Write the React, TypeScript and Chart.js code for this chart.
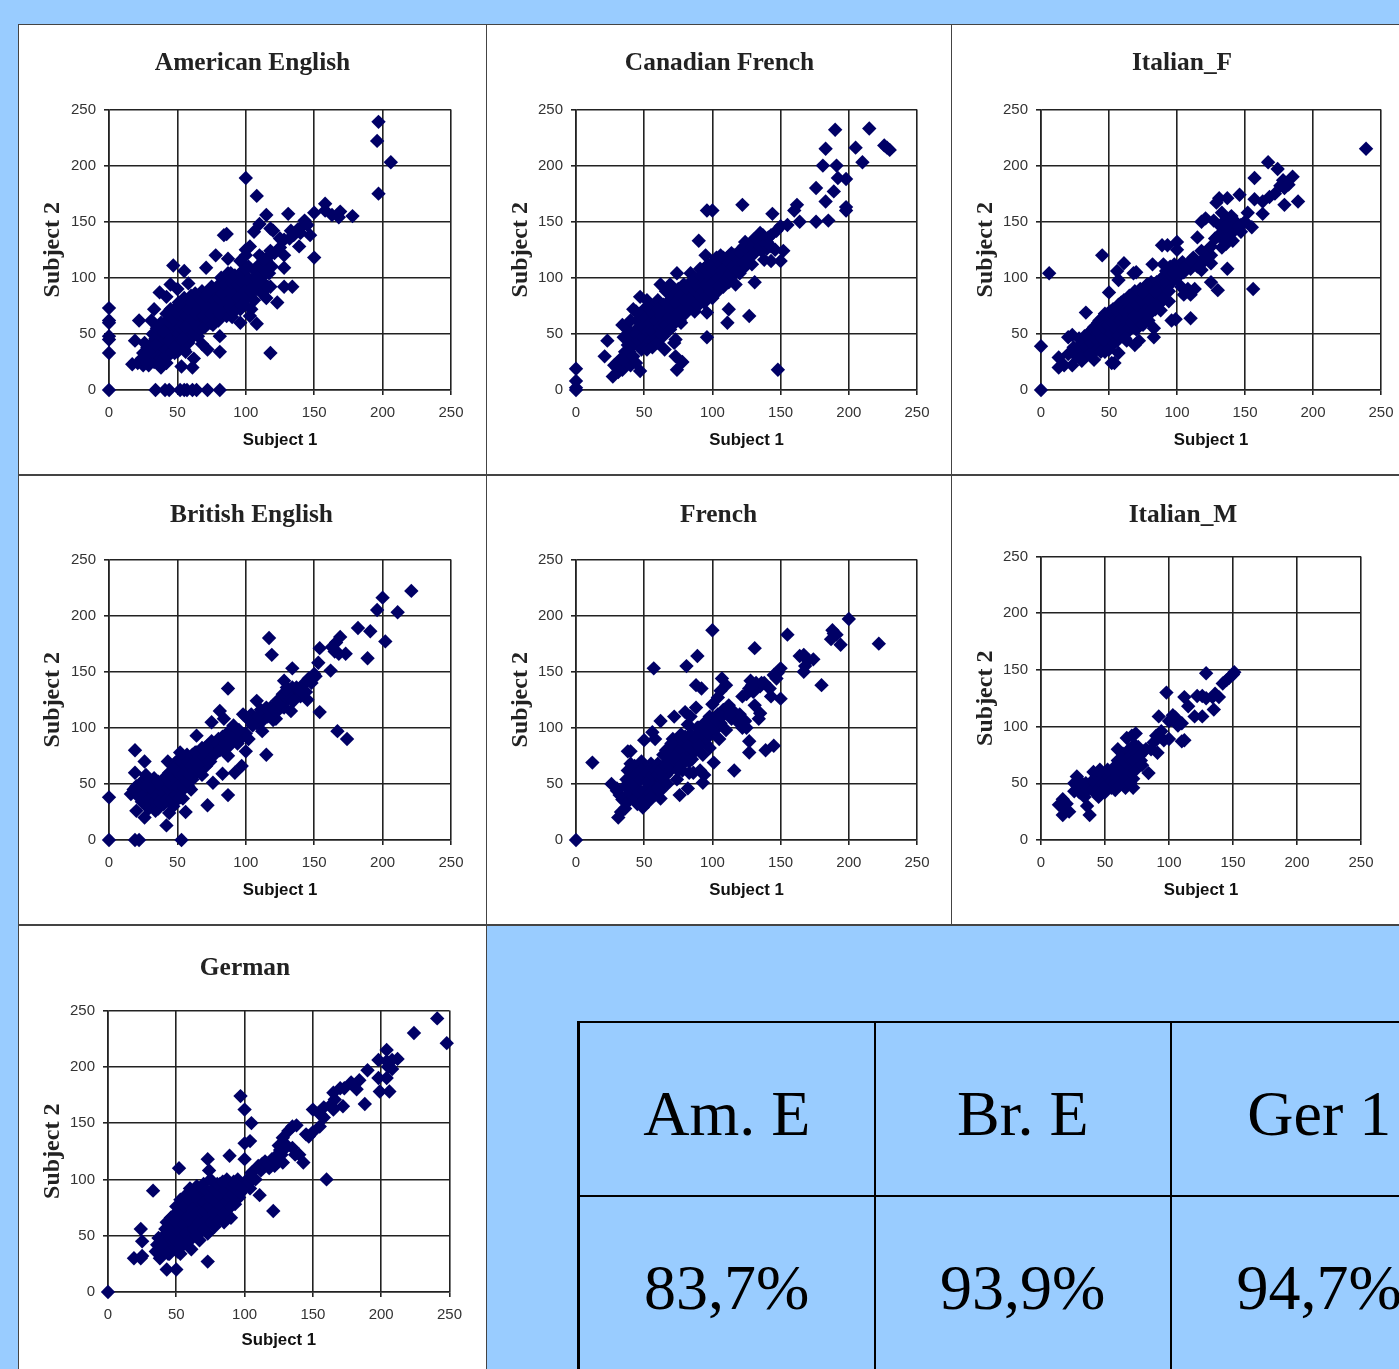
import React, { useEffect, useRef } from "react";
import { Chart, registerables } from "chart.js";

Chart.register(...registerables);

const tickValues = [0, 50, 100, 150, 200, 250];
const xAxisLabel = "Subject 1";
const yAxisLabel = "Subject 2";

const americanEnglish: number[][] = [
  [0,0],[0,33],[0,45],[0,48],[0,60],[0,62],[0,73],[34,0],[41,0],[44,0],[52,0],[55,0],[57,0],[61,0],[64,0],[72,0],[81,0],
  [197,239],[196,222],[206,203],[197,175],[100,189],[108,173],[115,156],[131,157],[150,158],[158,166],[158,160],[163,156],[168,154],[169,159],[178,155],
  [143,151],[141,146],[138,143],[145,147],[147,138],[139,128],[132,135],[125,135],[120,142],[118,144],[110,148],[106,141],[86,139],[84,138],[150,118],
  [128,109],[128,92],[134,92],[123,78],[118,33],[100,125],[103,128],[100,120],[96,115],[110,120],[115,115],[78,120],[87,117],[47,111],[55,106],[71,109],
  [58,95],[45,94],[50,90],[37,87],[42,83],[33,72],[22,62],[31,62],[19,44],[17,23],[21,24],[25,22],[29,22],[38,20],[42,24],[53,21],[61,20],[56,34],[62,28],
  [72,36],[68,41],[81,34],[81,48],[108,59],[103,66],[96,60],[90,65],[128,120],[125,127],[121,122],[118,124],[135,138],[140,140],[133,142],[128,134],
  [25,33],[28,38],[30,28],[33,25],[35,32],[36,42],[38,28],[32,50],[35,55],[39,48],[40,36],[41,60],[42,42],[43,30],[44,52],[45,38],[45,66],[46,46],[47,58],[48,33],
  [48,72],[49,52],[50,42],[50,62],[51,78],[52,48],[53,57],[54,68],[55,44],[55,52],[56,74],[57,60],[58,50],[59,66],[60,84],[60,56],[62,62],[63,72],[64,54],[65,78],
  [66,60],[67,68],[68,88],[69,58],[70,74],[71,64],[72,82],[73,70],[74,60],[75,92],[76,76],[77,66],[78,84],[79,72],[80,62],[81,90],[82,78],[83,70],[84,98],[85,84],
  [86,66],[87,92],[88,76],[89,104],[90,86],[91,70],[92,96],[93,80],[94,88],[95,100],[96,72],[97,92],[98,84],[99,76],[100,102],[101,94],[102,110],[103,86],[104,72],
  [105,98],[106,80],[107,106],[108,90],[110,112],[111,100],[112,86],[113,108],[114,94],[115,82],[116,118],[117,104],[118,92],[113,116],[119,110],
  [30,40],[34,46],[36,36],[38,52],[40,44],[41,30],[42,68],[43,48],[44,36],[44,60],[45,72],[46,52],[47,40],[47,64],[48,44],[49,56],[50,34],[50,68],[51,50],[52,38],
  [52,74],[53,44],[53,66],[54,56],[55,36],[55,82],[56,48],[57,66],[58,42],[58,72],[59,58],[60,46],[60,78],[61,64],[62,52],[63,86],[63,58],[64,68],[65,48],[66,74],
  [67,54],[68,80],[69,66],[70,56],[71,84],[72,72],[73,62],[74,90],[75,68],[76,58],[77,80],[78,74],[79,92],[80,82],[81,68],[82,100],[83,86],[84,74],[85,94],[86,78],
  [87,104],[88,88],[89,74],[90,96],[91,84],[92,102],[93,72],[94,94],[95,82],[96,104],[97,76],[98,96],[99,88],[100,108],[101,82],[102,98],[104,88],[106,92],[108,100],
  [110,96],[112,118],[115,105],[116,92],[26,42],[24,28],[28,24],[32,34],[34,40],[37,24],[29,34],[38,60],[40,52],[42,36],[44,44],[46,34],[48,38],[52,56],[54,46],[56,56]
];

const canadianFrench: number[][] = [
  [0,0],[0,2],[0,8],[0,19],[190,232],[215,233],[226,218],[228,216],[230,214],[183,215],[205,216],[210,203],[181,200],[191,200],[192,189],[198,188],[176,180],
  [189,177],[183,168],[198,160],[198,163],[176,150],[185,151],[164,150],[160,160],[162,165],[144,157],[122,165],[96,160],[100,160],[155,147],[150,146],
  [90,133],[148,18],[127,66],[111,60],[112,72],[96,47],[96,69],[131,96],[74,18],[78,25],[73,30],[65,36],[72,42],[73,45],[23,44],[21,30],[27,12],[47,17],
  [150,115],[152,124],[143,115],[138,116],[146,125],[140,132],[143,138],[135,140],[130,134],[124,132],[147,142],
  [30,20],[32,26],[34,18],[36,24],[38,28],[40,22],[44,24],[35,47],[34,58],[38,54],[40,48],[40,62],[42,72],[44,70],[46,56],[47,83],[48,42],[48,50],[49,62],[50,38],
  [50,72],[51,46],[52,56],[52,80],[53,42],[54,66],[55,50],[56,74],[56,60],[57,44],[58,68],[59,54],[60,80],[60,62],[61,48],[62,94],[62,70],[63,58],[64,76],[65,52],
  [66,88],[66,66],[67,60],[68,72],[69,94],[70,66],[70,78],[71,58],[72,84],[73,72],[74,104],[74,64],[75,80],[76,70],[77,60],[78,88],[79,76],[80,68],[81,92],[82,82],
  [83,74],[84,96],[85,86],[86,78],[87,70],[88,94],[89,84],[90,100],[90,76],[91,108],[92,88],[93,96],[94,78],[95,120],[96,100],[97,88],[98,110],[99,94],[100,82],
  [100,104],[102,116],[103,98],[104,88],[105,108],[106,120],[107,100],[108,92],[109,112],[110,104],[111,118],[112,96],[113,108],[114,122],[115,102],[116,112],[117,94],
  [118,118],[119,108],[120,124],[121,112],[122,116],[123,128],[124,110],[125,120],[126,114],[127,126],[128,122],[129,112],[132,128],[134,130],[136,124],[138,134],[140,126],
  [42,40],[44,50],[45,62],[46,44],[47,68],[48,36],[49,56],[50,46],[51,64],[52,40],[53,52],[54,72],[54,44],[55,60],[56,52],[57,68],[58,46],[59,62],[60,72],[61,56],
  [62,50],[63,66],[64,56],[65,70],[66,58],[67,78],[68,64],[69,54],[70,72],[71,84],[72,62],[73,78],[74,68],[75,90],[76,62],[77,84],[78,72],[79,94],[80,80],[81,72],
  [82,90],[83,82],[84,104],[85,92],[86,84],[87,100],[88,88],[89,76],[90,92],[91,84],[92,102],[93,88],[94,108],[95,94],[96,84],[97,112],[98,102],[99,88],[100,112],
  [101,96],[102,106],[103,118],[104,100],[105,92],[106,112],[107,106],[108,118],[109,98],[110,110],[111,100],[112,114],[113,104],[114,116],[115,110],[116,120],[117,106],
  [119,116],[120,104],[121,122],[123,114],[125,126],[127,118],[129,128],[131,122],[133,134],[135,128],[137,138],[139,130],[141,136],[143,128],[52,36],[56,38],[60,42],[64,48],
  [38,40],[36,34],[33,28],[28,22],[31,16],[35,28],[39,34],[42,30]
];

const italianF: number[][] = [
  [0,0],[0,39],[6,104],[239,215],[167,203],[174,197],[185,190],[157,189],[178,187],[182,183],[176,182],[179,180],[172,175],[168,172],[179,165],[189,168],[146,174],
  [137,171],[131,171],[129,167],[157,170],[163,168],[163,157],[152,158],[155,145],[147,141],[156,90],[137,108],[130,89],[125,96],[115,136],[118,150],[121,153],
  [127,151],[133,158],[136,152],[140,155],[132,146],[137,148],[143,150],[147,147],[130,137],[134,140],[138,135],[136,130],[133,127],[140,144],[141,133],[150,150],
  [45,120],[61,113],[56,106],[70,105],[68,104],[57,98],[50,87],[82,112],[89,129],[93,129],[100,132],[90,112],[33,69],[20,47],[23,49],
  [110,64],[96,62],[99,63],[94,79],[88,71],[83,47],[83,55],[69,40],[63,44],[72,44],[54,24],[52,24],[57,33],[13,29],[13,20],[17,22],[23,22],[39,27],[30,26],
  [108,90],[110,85],[105,85],[103,92],[113,90],[100,100],[105,105],[110,108],[115,110],[118,107],[120,115],[125,120],[122,124],[118,124],[112,118],[100,125],[125,128],
  [20,32],[24,38],[26,30],[28,46],[30,36],[32,48],[33,30],[35,42],[36,52],[37,34],[38,46],[39,56],[40,38],[41,50],[42,60],[43,40],[44,52],[45,64],[46,44],[47,34],[48,56],
  [49,68],[50,48],[51,60],[52,40],[53,72],[54,52],[55,64],[56,44],[57,76],[58,56],[59,68],[60,48],[61,80],[62,60],[63,72],[64,52],[65,84],[66,64],[67,76],[68,56],
  [69,88],[70,68],[71,80],[72,60],[73,90],[74,72],[75,82],[76,64],[77,92],[78,76],[79,86],[80,68],[81,96],[82,80],[83,90],[84,72],[85,96],[86,84],[87,94],[88,78],
  [89,100],[90,88],[91,96],[92,106],[93,92],[94,100],[95,110],[96,96],[97,104],[98,112],[104,114],[108,112],[114,115],
  [27,38],[29,28],[31,42],[33,38],[34,48],[36,32],[37,42],[38,54],[40,46],[41,36],[42,52],[43,62],[44,34],[45,46],[46,56],[47,68],[48,42],[49,58],[50,36],[51,70],
  [52,50],[53,60],[54,42],[55,54],[56,70],[57,48],[58,62],[59,78],[60,54],[61,70],[62,46],[63,62],[64,78],[65,56],[66,72],[67,60],[68,84],[69,66],[70,54],[71,76],
  [72,88],[73,66],[74,80],[75,58],[76,86],[77,70],[78,94],[79,62],[80,80],[82,72],[84,88],[86,76],[88,98],[90,82],[92,96],[94,88],[96,102],[98,104],[100,108],[102,106],[106,110],
  [142,142],[138,142],[134,134],[136,146],[145,146],[128,135],[125,113],[122,118],[118,115],[115,113],[110,115]
];

const britishEnglish: number[][] = [
  [0,0],[0,38],[19,0],[22,0],[53,0],[221,222],[200,216],[196,205],[211,203],[182,189],[191,186],[202,177],[189,162],[169,181],[166,176],[163,172],[165,168],[168,166],
  [173,166],[154,171],[162,151],[153,158],[117,180],[119,165],[87,135],[134,153],[154,114],[167,97],[174,90],[115,76],[112,97],[87,40],[72,31],[56,25],[42,13],
  [20,26],[26,20],[19,80],[26,70],[19,60],[16,41],[43,70],[64,93],[75,105],[81,115],[84,108],[100,110],[108,124],[145,125],[133,115],[127,119],[120,107],[122,108],
  [97,66],[92,60],[83,59],[76,51],[60,45],[54,37],[100,79],[87,75],[52,78],[48,68],[29,28],[34,26],
  [18,45],[20,48],[22,38],[24,34],[24,52],[26,44],[27,58],[28,38],[30,30],[30,50],[32,42],[33,55],[34,36],[35,46],[36,28],[38,42],[39,50],[40,32],[42,46],[43,54],[44,24],
  [45,38],[46,60],[47,30],[48,46],[49,66],[50,36],[50,54],[51,72],[52,44],[53,62],[54,52],[55,70],[56,58],[57,76],[58,48],[59,64],[60,72],[61,54],[62,68],[63,78],
  [64,60],[65,74],[66,66],[67,80],[68,58],[69,72],[70,82],[71,66],[72,76],[74,70],[76,84],[78,78],[80,90],[82,86],[84,80],[86,94],[88,84],[90,92],[92,98],[94,86],
  [96,90],[98,112],[100,95],[102,90],[104,112],[106,108],[108,104],[110,112],[112,106],[114,114],[116,110],[118,118],[120,112],[122,120],[124,116],[126,126],[128,118],
  [128,142],[130,124],[130,136],[132,128],[134,136],[136,130],[138,134],[140,128],[142,138],[144,132],[146,144],[148,140],[150,148],[151,146],
  [21,42],[23,46],[25,40],[27,48],[29,36],[31,46],[33,34],[35,40],[36,52],[37,34],[38,48],[40,42],[41,56],[42,36],[43,46],[44,60],[45,50],[46,36],[47,56],[48,62],
  [49,40],[50,48],[51,60],[52,38],[53,70],[54,58],[55,46],[56,66],[57,52],[58,70],[59,58],[60,66],[61,76],[62,62],[63,70],[64,78],[65,64],[66,74],[67,70],[68,82],
  [70,74],[72,84],[73,70],[74,78],[75,88],[77,76],[79,86],[81,80],[83,92],[85,86],[87,96],[89,90],[91,102],[93,94],[95,98],[103,106],[105,102],[109,110],[111,116],[115,118],
  [121,116],[123,124],[125,122],[127,130],[129,128],[131,132],[133,126],[135,124],[137,136],[139,134],[141,132],[143,140]
];

const french: number[][] = [
  [0,0],[12,69],[200,197],[222,175],[188,187],[189,184],[187,179],[191,183],[194,174],[155,183],[131,171],[100,187],[89,164],[81,155],[57,153],[180,138],
  [164,164],[167,165],[170,160],[174,161],[168,155],[167,150],[150,153],[148,149],[145,147],[147,144],[150,126],[143,128],[145,84],[139,80],[127,88],[127,78],[116,62],
  [101,69],[93,51],[94,58],[76,40],[82,46],[62,37],[49,29],[31,20],[33,25],[36,28],[26,50],[30,44],[38,79],[40,79],[50,89],[56,96],[58,90],[62,106],[72,110],
  [88,138],[92,135],[107,144],[110,138],[106,133],[104,127],[100,121],[128,142],[135,137],[138,140],[142,135],[130,132],[127,135],[122,128],[131,120],[135,113],[134,108],
  [88,118],[80,114],[84,110],[82,103],
  [30,46],[32,40],[34,36],[36,48],[38,34],[38,62],[40,44],[41,56],[42,38],[43,66],[44,50],[45,32],[46,60],[47,44],[48,70],[49,36],[50,54],[51,64],[52,46],[53,34],[54,58],
  [55,68],[56,48],[57,60],[58,40],[59,52],[60,68],[61,56],[62,44],[63,64],[64,76],[65,50],[66,58],[67,70],[68,82],[69,62],[70,74],[71,90],[72,66],[73,78],[74,54],[75,86],
  [76,70],[77,94],[78,62],[79,80],[80,70],[81,88],[82,76],[83,60],[84,84],[85,72],[86,60],[87,92],[88,80],[90,100],[91,62],[92,88],[93,76],[94,98],[95,86],[96,104],
  [97,92],[98,82],[100,108],[102,98],[104,112],[105,90],[106,104],[108,116],[110,98],[112,120],[114,108],[116,114],[118,106],[120,112],[122,100],[124,106],[125,100],
  [37,54],[39,42],[40,68],[42,50],[44,38],[44,58],[46,42],[47,54],[48,62],[50,44],[50,36],[52,60],[53,52],[54,42],[55,38],[56,58],[58,62],[60,46],[60,58],[62,62],
  [64,56],[66,66],[67,50],[68,74],[70,64],[72,82],[73,70],[74,88],[75,62],[76,80],[77,68],[78,88],[79,72],[80,92],[82,84],[83,70],[84,94],[86,80],[88,90],[89,100],
  [90,84],[92,96],[94,104],[96,96],[98,110],[100,100],[103,106],[107,110],[113,112],[70,86],[66,80],[72,74],[132,140],[136,140],[125,130],[129,138]
];

const italianM: number[][] = [
  [14,31],[17,36],[18,28],[20,32],[17,22],[22,25],[26,43],[28,56],[26,50],[30,48],[32,42],[34,38],[36,30],[38,22],[35,50],[38,46],[40,52],[42,44],[43,58],[45,38],
  [46,62],[48,48],[50,56],[50,42],[52,62],[54,50],[55,46],[56,58],[57,64],[58,44],[59,54],[60,70],[60,80],[62,60],[63,50],[64,76],[65,66],[66,46],[67,72],[67,90],
  [68,58],[69,80],[70,64],[71,92],[72,54],[72,46],[73,76],[74,94],[75,68],[76,82],[78,70],[80,78],[84,59],[86,80],[88,86],[91,77],[90,92],[92,109],[94,96],[96,88],
  [98,130],[100,105],[100,89],[103,110],[105,108],[107,101],[110,103],[110,87],[112,88],[112,126],[115,118],[120,109],[122,127],[126,127],[126,109],[129,125],[129,147],
  [135,115],[134,126],[136,129],[139,126],[142,138],[145,141],[147,143],[150,146],[151,148],
  [16,30],[20,26],[28,48],[30,42],[32,50],[36,44],[40,44],[41,60],[43,50],[44,44],[46,52],[47,42],[48,58],[49,50],[51,48],[53,56],[54,60],[55,52],[58,50],[58,60],
  [60,56],[61,48],[62,66],[63,72],[64,58],[65,52],[66,62],[67,56],[68,66],[69,72],[70,50],[70,74],[71,60],[72,70],[73,84],[74,62],[75,76],[77,74],[79,66],[82,80]
];

const german: number[][] = [
  [0,0],[241,243],[224,230],[248,221],[204,215],[198,206],[204,205],[208,206],[212,207],[205,200],[208,198],[190,197],[184,188],[180,183],[182,180],[178,186],[170,181],
  [173,181],[165,177],[166,171],[163,166],[165,162],[158,164],[172,165],[188,167],[199,178],[206,178],[198,190],[204,190],[97,174],[100,162],[105,150],[160,100],[121,72],
  [111,86],[33,90],[24,56],[25,45],[19,30],[24,30],[25,32],[43,20],[50,20],[73,27],[52,110],[73,118],[74,108],[89,121],[100,118],[100,132],[104,134],
  [135,147],[132,143],[138,148],[145,140],[150,142],[155,158],[150,162],[158,155],[155,147],[147,138],[128,137],[125,130],[135,128],[140,122],[143,115],[128,115],[137,122],
  [35,36],[36,42],[38,30],[40,48],[41,36],[42,56],[43,40],[44,52],[45,34],[46,66],[47,46],[48,58],[49,38],[50,52],[50,76],[51,44],[52,62],[53,34],[53,82],[54,50],[55,70],
  [55,42],[56,60],[57,86],[58,48],[59,72],[60,56],[60,92],[61,38],[62,66],[63,78],[64,52],[65,94],[65,60],[66,72],[67,46],[68,84],[69,58],[70,96],[71,66],[72,78],[73,52],
  [74,88],[75,62],[75,100],[76,72],[77,84],[78,58],[79,92],[80,66],[81,78],[82,96],[83,70],[84,88],[85,62],[86,80],[87,100],[88,74],[89,92],[90,66],[91,84],[92,98],[93,78],
  [94,90],[95,100],[96,84],[97,94],[98,90],[100,96],[102,100],[104,92],[105,106],[108,100],[110,112],[112,108],[115,116],[118,110],[120,118],[122,112],[124,122],[126,126],[130,128],
  [37,48],[39,40],[41,50],[43,62],[44,34],[46,48],[47,56],[48,68],[49,46],[50,62],[51,36],[52,54],[53,70],[54,44],[55,60],[56,76],[57,52],[58,66],[59,82],[60,46],
  [61,62],[62,74],[63,56],[63,88],[64,70],[65,50],[66,82],[67,62],[68,72],[69,92],[70,56],[70,80],[71,72],[72,90],[73,64],[74,76],[75,84],[76,62],[77,92],[78,70],
  [79,80],[80,96],[81,64],[82,86],[83,76],[84,98],[85,70],[86,90],[87,80],[88,96],[89,84],[90,76],[91,94],[92,86],[93,96],[95,90],[97,88],[99,92],[103,98],[106,100],
  [113,114],[117,114],[121,116],[123,118],[127,122],[131,130]
];

const panels = [
  { title: "American English", points: americanEnglish, left: 19, top: 25, width: 467, height: 449, plotLeft: 109, plotRight: 451, plotTop: 110, plotBottom: 390, titleCenter: 62 },
  { title: "Canadian French", points: canadianFrench, left: 487, top: 25, width: 465, height: 449, plotLeft: 576, plotRight: 917, plotTop: 110, plotBottom: 390, titleCenter: 62 },
  { title: "Italian_F", points: italianF, left: 952, top: 25, width: 460, height: 449, plotLeft: 1041, plotRight: 1381, plotTop: 110, plotBottom: 390, titleCenter: 62 },
  { title: "British English", points: britishEnglish, left: 19, top: 475, width: 465, height: 449, plotLeft: 109, plotRight: 451, plotTop: 560, plotBottom: 840, titleCenter: 514 },
  { title: "French", points: french, left: 487, top: 475, width: 463, height: 449, plotLeft: 576, plotRight: 917, plotTop: 560, plotBottom: 840, titleCenter: 514 },
  { title: "Italian_M", points: italianM, left: 952, top: 475, width: 462, height: 449, plotLeft: 1041, plotRight: 1361, plotTop: 557, plotBottom: 840, titleCenter: 514 },
  { title: "German", points: german, left: 19, top: 925, width: 452, height: 449, plotLeft: 108, plotRight: 450, plotTop: 1011, plotBottom: 1292, titleCenter: 967 },
];

const tableHeaders = ["Am. E", "Br. E", "Ger 1"];
const tableValues = ["83,7%", "93,9%", "94,7%"];

type Panel = (typeof panels)[number];

function ScatterPanel({ panel }: { panel: Panel }) {
  const ref = useRef<HTMLCanvasElement>(null);
  useEffect(() => {
    const titleLine = 25.4 * 1.2;
    const titleTop = panel.titleCenter + 1 - panel.top - titleLine / 2;
    const titleBottom = panel.plotTop - panel.top - titleLine - titleTop - 0.5;
    const tickFont = { family: "'Liberation Sans', Arial, sans-serif", size: 15 };
    const grid = { color: "#222222", lineWidth: 1.6, tickLength: 5, tickColor: "#222222", drawTicks: true };
    const chart = new Chart(ref.current!, {
      type: "scatter",
      data: {
        datasets: [
          {
            data: panel.points.map(([x, y]) => ({ x, y })),
            backgroundColor: "#000066",
            borderWidth: 0,
            pointStyle: "rectRot",
            pointRadius: 7.2,
            clip: false,
            xAxisID: "x",
            yAxisID: "y",
          } as any,
        ],
      },
      options: {
        animation: false,
        responsive: false,
        devicePixelRatio: 1,
        layout: { padding: 0 },
        plugins: {
          legend: { display: false },
          tooltip: { enabled: false },
          title: {
            display: true,
            text: panel.title,
            color: "#222222",
            font: { family: "'Liberation Serif', 'Times New Roman', serif", size: 25.4, weight: "bold", lineHeight: 1.2 },
            padding: { top: titleTop, bottom: titleBottom },
          },
        },
        scales: {
          x: {
            type: "linear",
            min: 0,
            max: 250,
            afterBuildTicks: (s: any) => { s.ticks = tickValues.map((value) => ({ value })); },
            afterFit: (s: any) => { s.height = panel.top + panel.height - panel.plotBottom; },
            grid,
            border: { color: "#222222", width: 1.6 },
            ticks: { font: tickFont, color: "#333333", padding: 9, maxRotation: 0 },
            title: {
              display: true,
              text: xAxisLabel,
              color: "#111111",
              font: { family: "'Liberation Sans', Arial, sans-serif", size: 16.8, weight: "bold", lineHeight: 1.2 },
              padding: { top: 0, bottom: 24 },
            },
          },
          y: {
            type: "linear",
            min: 0,
            max: 250,
            afterBuildTicks: (s: any) => { s.ticks = tickValues.map((value) => ({ value })); },
            afterFit: (s: any) => { s.width = panel.plotLeft - panel.left; },
            grid,
            border: { color: "#222222", width: 1.6 },
            ticks: { font: tickFont, color: "#333333", padding: 8 },
            title: {
              display: true,
              text: yAxisLabel,
              color: "#222222",
              font: { family: "'Liberation Serif', 'Times New Roman', serif", size: 24, weight: "bold", lineHeight: 1.2 },
              padding: { top: 19, bottom: 0 },
            },
          },
          rightGutter: {
            type: "linear",
            position: "right",
            min: 0,
            max: 250,
            grid: { display: false },
            border: { display: false },
            ticks: { display: false },
            afterFit: (s: any) => { s.width = panel.left + panel.width - panel.plotRight; },
          },
        },
      },
    });
    return () => chart.destroy();
  }, [panel]);
  return (
    <canvas
      ref={ref}
      width={panel.width}
      height={panel.height}
      style={{ position: "absolute", left: panel.left, top: panel.top, width: panel.width, height: panel.height, display: "block" }}
    />
  );
}

const lineColor = "#444444";

export default function App() {
  useEffect(() => {
    document.body.style.margin = "0";
    document.body.style.overflow = "hidden";
    document.documentElement.style.overflow = "hidden";
  }, []);
  const cell = (i: number, row: number, text: string) => (
    <div
      key={`${row}-${i}`}
      style={{
        position: "absolute",
        left: 577 + 296.5 * i,
        top: row === 0 ? 1021 : 1195,
        width: 296.5,
        height: 174,
        boxSizing: "border-box",
        borderLeft: `${i === 0 ? 3 : 2}px solid #000`,
        borderTop: "2.5px solid #000",
        paddingTop: row === 0 ? 10 : 9,
        display: "flex",
        alignItems: "center",
        justifyContent: "center",
        fontFamily: "'Liberation Serif', 'Times New Roman', serif",
        fontSize: 64,
        color: "#000",
        whiteSpace: "nowrap",
      }}
    >
      {text}
    </div>
  );
  return (
    <div style={{ position: "relative", width: 1399, height: 1369, background: "#99CCFF", overflow: "hidden" }}>
      <div style={{ position: "absolute", left: 18, top: 24, width: 1381, height: 1345, background: "#fff", borderLeft: `1.5px solid ${lineColor}`, borderTop: `1.5px solid ${lineColor}`, boxSizing: "border-box" }} />
      <div style={{ position: "absolute", left: 485.5, top: 24, width: 1.5, height: 1345, background: lineColor }} />
      <div style={{ position: "absolute", left: 950.5, top: 24, width: 1.5, height: 900, background: lineColor }} />
      <div style={{ position: "absolute", left: 18, top: 474, width: 1381, height: 1.5, background: lineColor }} />
      <div style={{ position: "absolute", left: 18, top: 924, width: 1381, height: 1.5, background: lineColor }} />
      <div style={{ position: "absolute", left: 487, top: 926, width: 912, height: 443, background: "#99CCFF" }} />
      {panels.map((p) => (
        <ScatterPanel key={p.title} panel={p} />
      ))}
      {tableHeaders.map((t, i) => cell(i, 0, t))}
      {tableValues.map((t, i) => cell(i, 1, t))}
    </div>
  );
}
